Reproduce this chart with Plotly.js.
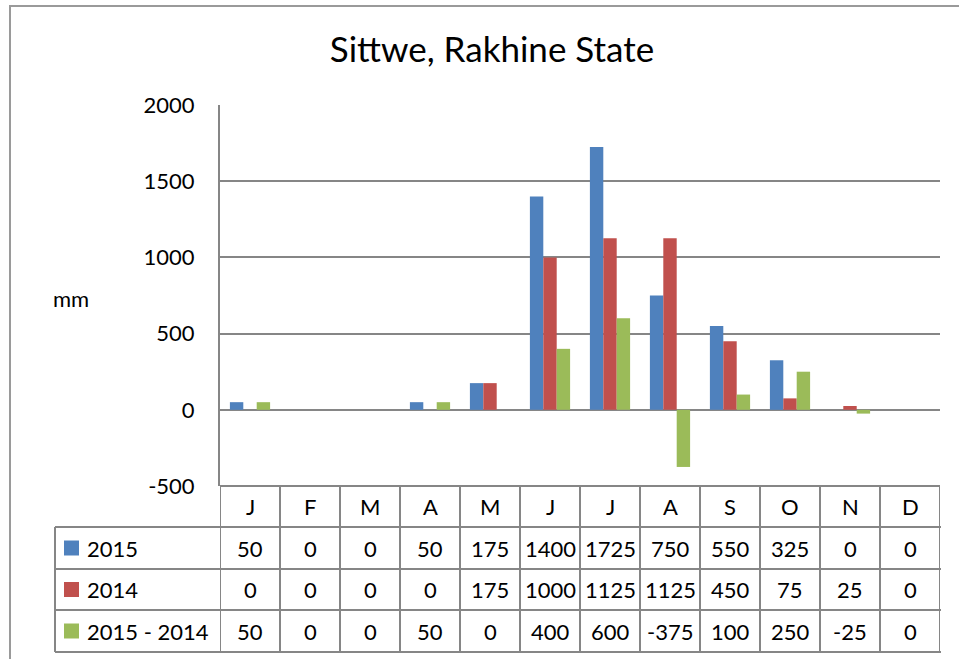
<!DOCTYPE html>
<html>
<head>
<meta charset="utf-8">
<script src="https://cdn.plot.ly/plotly-3.0.1.min.js"></script>
<style>html,body{margin:0;padding:0;background:#fff;}#chart{width:959px;height:659px;}</style>
</head>
<body>
<div id="chart"></div>
<script>
const months = ["J","F","M","A","M","J","J","A","S","O","N","D"];
const seriesNames = ["2015","2014","2015 - 2014"];
const rain2015 = [50,0,0,50,175,1400,1725,750,550,325,0,0];
const rain2014 = [0,0,0,0,175,1000,1125,1125,450,75,25,0];
const diff = [50,0,0,50,0,400,600,-375,100,250,-25,0];
const yTicks = [-500,0,500,1000,1500,2000];

const colors = ["#4F81BD","#C0504D","#9BBB59"];
const allSeries = [rain2015, rain2014, diff];
const idx = months.map((m,i)=>i);

const FONT = "Lato, 'Open Sans', sans-serif";
const GRAY = "#868686";

// pixel helpers for layout positions (plot area: x 220..940, y 105..486)
const L=220, R=940, T=105, B=486, W=959, H=659;
const px = p => (p - L)/(R - L);
const py = p => (B - p)/(B - T);

const traces = allSeries.map((vals,k)=>({
  type:"bar", x: idx, y: vals, name: seriesNames[k],
  marker:{color: colors[k], line:{width:0}},
  hoverinfo:"y"
}));

const shapes = [];
const annotations = [];
const lineStyle = {color: GRAY, width: 2};

// chart outer border
shapes.push({type:"rect", xref:"paper", yref:"paper", x0:px(10), x1:px(980), y0:py(680), y1:py(6), line:{color:"#9a9a9a", width:2}, fillcolor:"rgba(0,0,0,0)", layer:"below"});

// table rows (pixel y of row borders)
const rowY = [486, 527, 569, 610, 652];
const leftEdge = 55;
shapes.push({type:"line", xref:"x", yref:"paper", x0:-0.5, x1:months.length-0.5, y0:py(rowY[0]), y1:py(rowY[0]), line:lineStyle});
for (let r=1; r<rowY.length; r++) {
  shapes.push({type:"line", xref:"paper", yref:"paper", x0:px(leftEdge), x1:px(R+1), y0:py(rowY[r]), y1:py(rowY[r]), line:lineStyle});
}
for (let i=0; i<=months.length; i++) {
  shapes.push({type:"line", xref:"x", yref:"paper", x0:i-0.5, x1:i-0.5, y0:py(rowY[0]), y1:py(rowY[4]), line:lineStyle});
}
shapes.push({type:"line", xref:"paper", yref:"paper", x0:px(leftEdge), x1:px(leftEdge), y0:py(rowY[1]), y1:py(rowY[4]), line:lineStyle});

const cellFont = {family: FONT, size: 22, color: "#000"};
months.forEach((m,i)=>{
  annotations.push({xref:"x", yref:"paper", x:i, y:py((rowY[0]+rowY[1])/2), text:m, showarrow:false, xanchor:"center", yanchor:"middle", font:cellFont});
});
allSeries.forEach((vals,k)=>{
  const yc = py((rowY[k+1]+rowY[k+2])/2);
  shapes.push({type:"rect", xref:"paper", yref:"paper", x0:px(64), x1:px(79), y0:yc-7.5/(B-T), y1:yc+7.5/(B-T), fillcolor:colors[k], line:{width:0}});
  annotations.push({xref:"paper", yref:"paper", x:px(85), y:yc, text:seriesNames[k], showarrow:false, xanchor:"left", yanchor:"middle", font:cellFont});
  vals.forEach((v,i)=>{
    annotations.push({xref:"x", yref:"paper", x:i, y:yc, text:String(v), showarrow:false, xanchor:"center", yanchor:"middle", font:cellFont});
  });
});

annotations.push({xref:"paper", yref:"paper", x:px(71), y:py(298), text:"mm", showarrow:false, xanchor:"center", yanchor:"middle", font:cellFont});

const layout = {
  width: W, height: H,
  margin: {l: L, r: W - R, t: T, b: H - B, pad: 0},
  paper_bgcolor: "#fff", plot_bgcolor: "#fff",
  showlegend: false,
  barmode: "group", bargap: 0.33, bargroupgap: 0,
  title: {text: "Sittwe, Rakhine State", font:{family: FONT, size: 35, color:"#000"}, xref:"container", yref:"container", x: 492/W, xanchor:"center", y: 1 - 50/H, yanchor:"middle"},
  xaxis: {range:[-0.5, months.length-0.5], showticklabels:false, showgrid:false, zeroline:false, showline:false, ticks:"", fixedrange:true},
  yaxis: {range:[-500, 2000], tickvals: yTicks, ticktext: yTicks.map(String), showgrid:true, gridcolor:GRAY, gridwidth:2, zeroline:true, zerolinecolor:GRAY, zerolinewidth:2, showline:true, linecolor:GRAY, linewidth:2, ticks:"", ticklabelstandoff: 19, tickfont:{family: FONT, size: 22, color:"#000"}, fixedrange:true},
  shapes: shapes,
  annotations: annotations
};

Plotly.newPlot("chart", traces, layout, {displayModeBar:false, staticPlot:true});
</script>
</body>
</html>
